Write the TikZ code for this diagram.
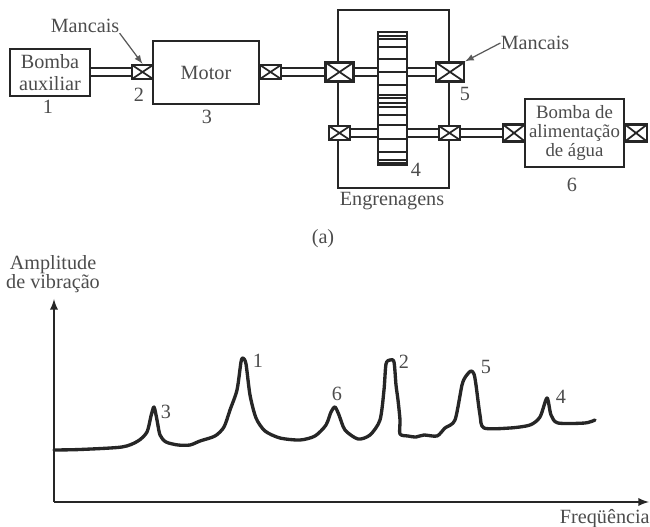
\documentclass[tikz,border=0pt]{standalone}
\usepackage{fontspec}
\setmainfont{Liberation Serif}
\usetikzlibrary{arrows,calc}
\colorlet{ink}{black!85}
\colorlet{lettering}{black!70}
\tikzset{
	label text/.style={
			text=lettering, font=\fontsize{11.5}{10.6}\selectfont, inner sep=0pt, align=center
		},
	unit/.style={
			draw=ink, line width=1pt, fill=white, inner sep=0pt
		},
	bearing/.style n args={2}{
			draw=ink, line width=1.3pt, fill=white, inner sep=0pt, minimum width=#1, minimum height=#2,
			path picture={
					\draw[ink, line width=1pt] (path picture bounding box.north west) -- (path picture bounding box.south east);
					\draw[ink, line width=1pt] (path picture bounding box.south west) -- (path picture bounding box.north east);
				}
		},
	shaft/.style={
			draw=ink, line width=0.8pt, double=white, double distance=3.8pt
		},
	pointer/.style={
			draw=black!65, line width=0.7pt, -latex
		},
	axis line/.style={
			draw=ink, line width=1.1pt, -latex
		}
}

\begin{document}
\begin{tikzpicture}[x=0.02cm, y=-0.02cm]
			\useasboundingbox (0,0) rectangle (650,527);

			\node[unit, minimum width=1.6cm, minimum height=0.94cm] (auxpump) at (50,72.5) {};
			\node[unit, minimum width=2.12cm, minimum height=1.26cm] (motor) at (206,72.5) {};
			\node[unit, minimum width=2.22cm, minimum height=3.56cm] (gearbox) at (393.5,99) {};
			\node[unit, minimum width=0.58cm, minimum height=2.66cm] (gear) at (392.5,98.5) {};
			\node[unit, minimum width=1.98cm, minimum height=1.36cm] (feedpump) at (574.5,133) {};

			\foreach \toothy in {36,39,47,59,72,85,95,98,103,107,115,125,139,152,160,163}{
				\draw[ink, line width=0.7pt] ($(gear.west |- 0,\toothy)$) -- ($(gear.east |- 0,\toothy)$);
			}

			\node[bearing={0.42cm}{0.28cm}] (brgb) at (142.5,72) {};
			\node[bearing={0.42cm}{0.28cm}] (brgc) at (270.5,72) {};
			\node[bearing={0.56cm}{0.38cm}] (brgd) at (339.5,72) {};
			\node[bearing={0.56cm}{0.38cm}] (brge) at (450,72) {};
			\node[bearing={0.42cm}{0.28cm}] (brgf) at (339.5,133) {};
			\node[bearing={0.42cm}{0.28cm}] (brgg) at (449.5,133) {};
			\node[bearing={0.44cm}{0.34cm}] (brgh) at (514,133) {};
			\node[bearing={0.44cm}{0.34cm}] (brgi) at (636,133) {};

			\draw[shaft] (auxpump.east |- brgb) -- (brgb);
			\draw[shaft] (brgc) -- (brgd);
			\draw[shaft] (brgd) -- (brgd -| gear.west);
			\draw[shaft] (brgd -| gear.east) -- (brge);
			\draw[shaft] (brgf) -- (brgf -| gear.west);
			\draw[shaft] (brgf -| gear.east) -- (brgg);
			\draw[shaft] (brgg) -- (brgh);

			\node[label text] at (auxpump) {Bomba\\[1.5pt]auxiliar};
			\node[label text] at (motor) {Motor};
			\node[label text, font=\fontsize{10.7}{10.6}\selectfont] at (feedpump) {Bomba de\\alimentação\\de água};
			\node[label text] at (48,107) {1};
			\node[label text] at (139,95) {2};
			\node[label text] at (207,117) {3};
			\node[label text] at (416,170) {4};
			\node[label text] at (465,94) {5};
			\node[label text] at (572,185) {6};
			\node[label text] (gearname) at (392,201) {Engrenagens};
			\node[label text] (parta) at (323,239) {(a)};

			\node[label text] (mancaisb) at (85,26) {Mancais};
			\node[label text] (mancaise) at (535,43) {Mancais};
			\draw[pointer] (mancaisb.south east) -- (brgb.north);
			\draw[pointer] (mancaise.west) -- (brge.north east);

			\coordinate (origin) at (54,502);
			\coordinate (ytip) at (54,299);
			\coordinate (xtip) at (649,502);
			\draw[axis line] (origin) -- (ytip);
			\draw[axis line] (origin) -- (xtip);
			\node[label text] (ylabel) at (53,274) {Amplitude\\de vibração};
			\node[label text, anchor=east] (xlabel) at (650,519) {Freqüência};

			\draw[ink, line width=1.9pt, line join=round, line cap=round] plot[smooth, tension=0.45] coordinates {
				(54,450) (80,449.5) (122,447) (138,441) (147,432) (151,416) (154,407) (157,420) (160,435) (166,442) (178,445) (190,445) (200,441) (215,436) (224,427) (230,410) (237,390) (241,362) (243,358) (246,364) (250,395) (256,418) (265,431) (280,438) (300,440) (315,436) (326,425) (331,412) (335,407) (339,415) (345,430) (358,439) (370,435) (380,420) (384,390) (386,364) (390,360) (394,362) (396,385) (398,400) (400,420) (400,434) (408,436) (416,437) (424,435) (437,436) (445,428) (455,420) (462,385) (466,376) (471,371) (474,374) (476,385) (480,415) (484,428) (510,428) (530,425) (540,417) (547,398) (551,415) (558,423) (585,423) (595,420)
			};

			\node[label text] at (258,361) {1};
			\node[label text] at (404,362) {2};
			\node[label text] at (166,412) {3};
			\node[label text] at (561,397) {4};
			\node[label text] at (486,367) {5};
			\node[label text] at (337,394) {6};
		\end{tikzpicture}
\end{document}
